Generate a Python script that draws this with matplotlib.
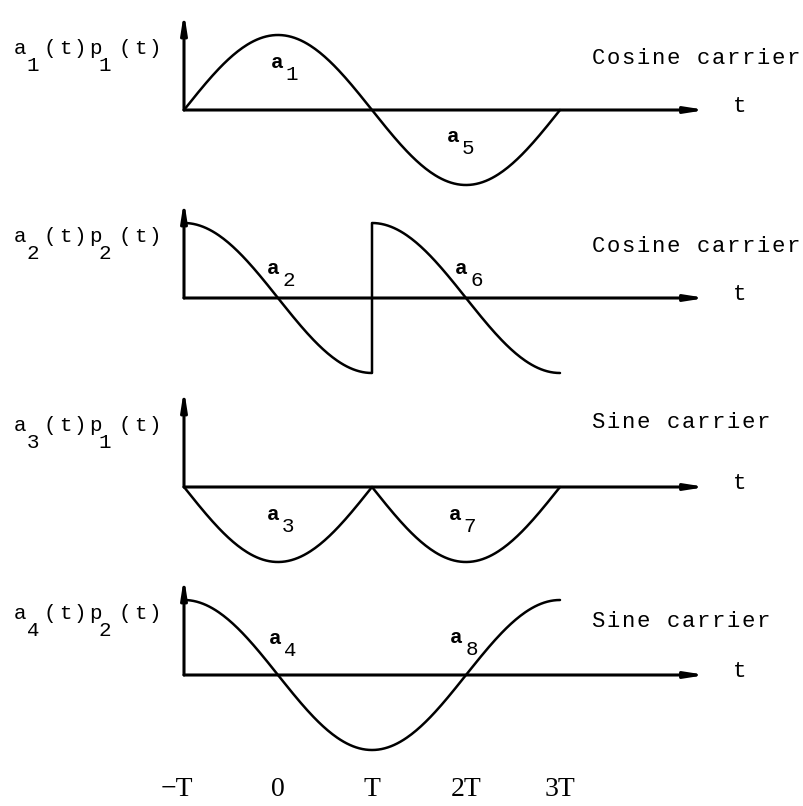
import matplotlib.pyplot as plt
import numpy as np

# time axis in units of T; each symbol pulse lasts 2T
symbol_starts = [-1, 1]
symbol_width = 2
pulse_kind = ["sin", "cos", "sin", "cos"]      # p1: half sine, p2: half cosine
symbol_values = [[1, -1], [1, 1], [-1, -1], [1, -1]]
symbol_names = [["1", "5"], ["2", "6"], ["3", "7"], ["4", "8"]]
row_subs = [["1", "1"], ["2", "2"], ["3", "1"], ["4", "2"]]
carriers = ["Cosine carrier", "Cosine carrier", "Sine carrier", "Sine carrier"]
tick_values = [-1, 0, 1, 2, 3]
tick_labels = ["\u2212T", "0", "T", "2T", "3T"]

# layout (pixels of the 804x806 picture)
W, H = 804, 806
x0_px, T_px, amp_px = 184, 94, 75
axis_rows = [110, 298, 487, 675]
above, below = 105, 85
name_pos = [[(-0.01, 0.64), (1.86, -0.36)],
            [(-0.05, 0.40), (1.95, 0.40)],
            [(-0.05, -0.37), (1.88, -0.37)],
            [(-0.03, 0.48), (1.90, 0.50)]]
carrier_base = [0.61, 0.61, 0.79, 0.64]

MONO = "Liberation Mono"
SERIF = "Liberation Serif"
PT = 0.72  # points per pixel at dpi 100


def px2x(px):
    return -1 + (px - x0_px) / T_px


def typewrite(ax, x, y, s, size, pitch=15):
    # place characters one by one at a fixed pitch, like a typewriter
    for i, ch in enumerate(s):
        if ch == " ":
            continue
        ax.annotate(ch, (x, y), xytext=(i * pitch * PT, 0), textcoords="offset points",
                    ha="center", va="baseline", fontsize=size, family=MONO,
                    annotation_clip=False)


fig = plt.figure(figsize=(W / 100, H / 100), dpi=100)
arrow = dict(arrowstyle="-|>,head_length=0.7,head_width=0.11", lw=2.2, color="black",
             shrinkA=0, shrinkB=0, mutation_scale=16)

for k, ay in enumerate(axis_rows):
    ax = fig.add_axes([0, 1 - (ay + below) / H, 1, (above + below) / H])
    ax.set_xlim(px2x(0), px2x(W))
    ax.set_ylim(-below / amp_px, above / amp_px)
    ax.axis("off")
    ax.patch.set_alpha(0)

    # axes with arrows
    ax.annotate("", xy=(px2x(706), 0), xytext=(-1, 0), arrowprops=arrow, annotation_clip=False)
    ax.annotate("", xy=(-1, 1.3), xytext=(-1, 0), arrowprops=arrow, annotation_clip=False)
    ax.text(px2x(740), 0.05, "t", ha="center", va="center", fontsize=16, family=MONO)

    # waveform: symbol value times pulse shape
    ts, ys = [], []
    for start, val in zip(symbol_starts, symbol_values[k]):
        t = np.linspace(start, start + symbol_width, 120)
        ph = np.pi * (t - start) / (2 * 1.0)
        shape = np.sin(ph) if pulse_kind[k] == "sin" else np.cos(ph)
        ts.append(t)
        ys.append(val * shape)
    ax.plot(np.concatenate(ts), np.concatenate(ys), color="black", lw=1.8,
            solid_capstyle="round", clip_on=False)

    # symbol labels a_n
    for (lx, ly), nm in zip(name_pos[k], symbol_names[k]):
        ax.text(lx, ly, "a", ha="center", va="center", fontsize=15, family=MONO,
                fontweight="bold")
        ax.annotate(nm, (lx, ly), xytext=(15 * PT, -12 * PT), textcoords="offset points",
                    ha="center", va="center", fontsize=15, family=MONO)

    # row label a_k(t)p_j(t)
    lx = px2x(20)
    typewrite(ax, lx, 0.75, "a (t)p (t)", 15)
    for off, sub in zip([13, 85], row_subs[k]):
        ax.annotate(sub, (lx, 0.52), xytext=(off * PT, 0), textcoords="offset points",
                    ha="center", va="baseline", fontsize=15, family=MONO,
                    annotation_clip=False)

    # carrier label
    typewrite(ax, px2x(598), carrier_base[k], carriers[k], 16)

    if k == len(axis_rows) - 1:
        for tv, tl in zip(tick_values, tick_labels):
            dx = -7 * PT if tl.startswith("\u2212") else 0
            ax.annotate(tl, (tv, -115 / amp_px), xytext=(dx, 0), textcoords="offset points",
                        ha="center", va="center", fontsize=20, family=SERIF,
                        annotation_clip=False)

fig.savefig("out.png", dpi=100, facecolor="white")
